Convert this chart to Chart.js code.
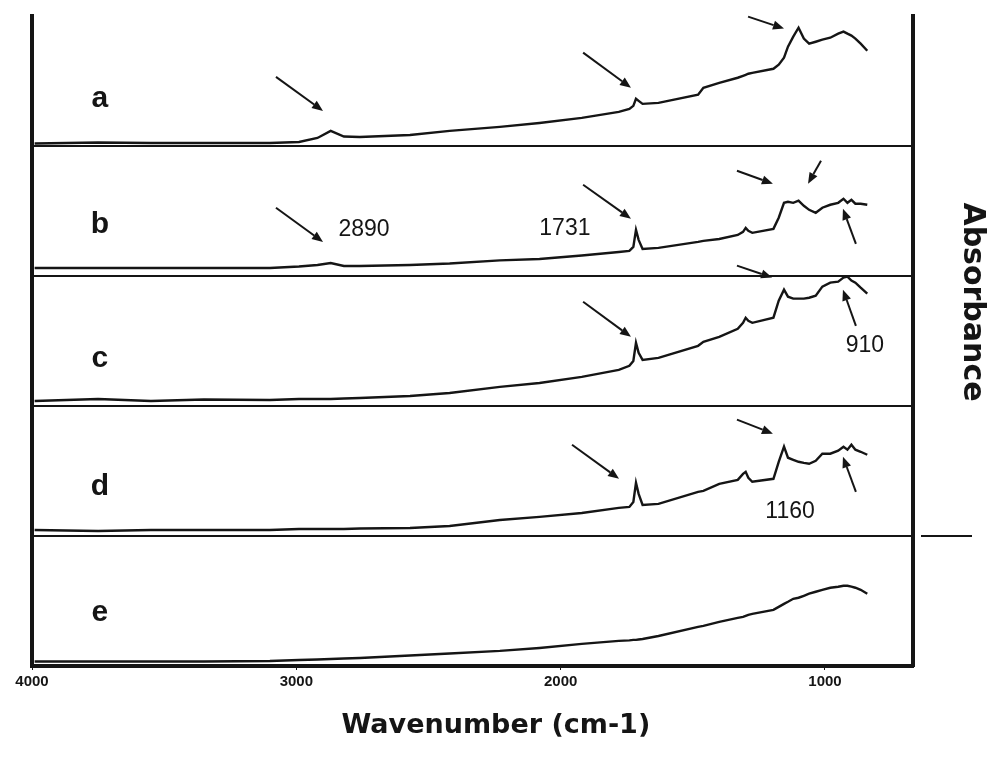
<!DOCTYPE html>
<html>
<head>
<meta charset="utf-8">
<script src="https://cdn.jsdelivr.net/npm/chart.js@4.4.1/dist/chart.umd.min.js"></script>
<style>
  html, body { margin: 0; padding: 0; background: #fff; }
  #wrap { width: 989px; height: 761px; }
</style>
</head>
<body>
<div id="wrap"><canvas id="ftirChart"></canvas></div>
<script>
// wavenumbers (cm-1), shared by the five spectra
const wavenumbers = [3990, 3750, 3550, 3350, 3100, 2990, 2920, 2870, 2820, 2760,
  2570, 2420, 2230, 2080, 1920, 1780, 1740, 1725, 1715, 1705,
  1690, 1630, 1480, 1460, 1400, 1330, 1310, 1300, 1290, 1275,
  1195, 1175, 1155, 1140, 1120, 1100, 1080, 1060, 1035, 1010,
  980, 950, 930, 915, 900, 885, 865, 840];

// absorbance, in % of each panel's height
const spectrumA = [1.9, 2.7, 2.3, 2.3, 2.3, 3.1, 6.2, 11.6, 7.3, 6.9,
  8.5, 11.6, 14.7, 17.7, 21.6, 26.2, 28.5, 30.9, 36.3, 34.7,
  32.4, 33.2, 39.4, 44.8, 48.6, 52.5, 54.0, 54.8, 55.6, 56.3,
  59.4, 62.5, 67.9, 76.4, 84.1, 91.0, 82.6, 78.7, 80.2, 81.8,
  83.3, 86.4, 88.0, 86.4, 84.9, 82.6, 78.7, 73.3];
const spectrumB = [6.2, 6.2, 6.2, 6.2, 6.2, 7.3, 8.5, 10.0, 7.7, 7.7,
  8.5, 9.6, 12.0, 13.1, 15.8, 18.5, 19.3, 22.4, 35.5, 27.8,
  20.8, 21.6, 26.2, 27.0, 28.5, 31.6, 34.0, 37.0, 34.7, 33.2,
  36.3, 44.8, 56.3, 57.1, 56.3, 57.9, 54.0, 50.9, 48.6, 52.5,
  54.8, 56.3, 59.4, 56.3, 58.6, 55.6, 55.6, 54.8];
const spectrumC = [3.9, 5.4, 3.9, 5.0, 4.6, 5.4, 5.4, 5.4, 5.8, 6.2,
  7.7, 10.0, 14.7, 17.7, 22.4, 27.8, 30.9, 34.7, 48.6, 40.9,
  35.5, 37.0, 46.3, 49.4, 53.2, 59.4, 64.0, 67.9, 65.6, 64.0,
  67.9, 81.0, 89.5, 84.1, 82.6, 82.6, 82.6, 83.3, 84.9, 91.8,
  94.9, 95.7, 98.8, 99.5, 96.5, 94.9, 91.0, 86.4];
const spectrumD = [4.6, 3.9, 4.6, 4.6, 4.6, 5.4, 5.4, 5.4, 5.4, 5.8,
  6.2, 7.7, 12.3, 14.7, 17.7, 21.6, 22.4, 26.2, 40.9, 32.4,
  23.9, 24.7, 34.0, 34.7, 40.1, 43.2, 47.8, 49.4, 44.8, 41.7,
  44.0, 57.1, 68.7, 60.2, 58.6, 57.1, 56.3, 55.6, 57.9, 63.3,
  63.3, 65.6, 68.7, 66.4, 70.2, 66.4, 64.8, 62.5];
const spectrumE = [3.5, 3.5, 3.5, 3.5, 3.9, 4.6, 5.0, 5.4, 5.8, 6.2,
  8.1, 9.6, 11.6, 13.9, 17.0, 19.3, 19.7, 20.1, 20.1, 20.4,
  20.8, 23.1, 30.1, 30.9, 34.0, 37.0, 37.8, 38.6, 39.4, 40.1,
  43.2, 45.5, 47.8, 49.4, 51.7, 52.5, 54.0, 55.6, 57.1, 58.6,
  60.2, 61.0, 61.7, 61.7, 61.0, 60.2, 58.6, 55.6];

const panelLabels = ['a', 'b', 'c', 'd', 'e'];
const xTicks = [4000, 3000, 2000, 1000];

// annotations in data units: [panel, wavenumber, value]
const letterWave = 3743;
const letterY = [36, 39.4, 36, 37.8, 41];
const bandLabels = [
  ['b', 2744, 35.5, '2890'],
  ['b', 1984, 36.3, '1731'],
  ['c', 849, 46.3, '910'],
  ['d', 1132, 18.5, '1160']
];
// [panel, from wave, from value, to wave, to value]
const arrows = [
  ['a', 3077, 53.2, 2899, 27.0],
  ['a', 1915, 71.8, 1734, 44.8],
  ['a', 1291, 99.5, 1155, 90.3],
  ['b', 3077, 52.5, 2899, 26.2],
  ['b', 1915, 70.2, 1734, 44.0],
  ['b', 1333, 81.0, 1197, 70.9],
  ['b', 1015, 88.7, 1064, 71.0],
  ['b', 883, 24.7, 932, 51.7],
  ['c', 1333, 108.0, 1200, 98.8],
  ['c', 1915, 80.2, 1734, 53.2],
  ['c', 883, 61.7, 932, 89.5],
  ['d', 1957, 70.2, 1779, 44.0],
  ['d', 1333, 89.5, 1197, 78.7],
  ['d', 883, 34.0, 932, 61.0]
];
const xTitle = 'Wavenumber (cm-1)';
const xTitleWave = 2245;
const yTitle = 'Absorbance';

const ink = '#151515';
const series = [spectrumA, spectrumB, spectrumC, spectrumD, spectrumE];
const axisOf = p => 'y' + p;

const datasets = series.map((vals, i) => ({
  label: panelLabels[i],
  data: wavenumbers.map((w, k) => ({ x: w, y: vals[k] })),
  yAxisID: axisOf(panelLabels[i]),
  borderColor: ink,
  borderWidth: 2.4,
  pointRadius: 0,
  tension: 0,
  fill: false
}));

const scales = {
  x: {
    type: 'linear', reverse: true, min: 667, max: 4000,
    afterBuildTicks: s => { s.ticks = xTicks.map(v => ({ value: v })); },
    ticks: {
      callback: v => String(v), color: ink, padding: 3, maxRotation: 0, autoSkip: false,
      font: { family: 'Liberation Sans', size: 15, weight: 'bold' }
    },
    grid: { drawOnChartArea: false, tickLength: 4, color: ink, lineWidth: 1 },
    border: { display: true, color: ink, width: 4 }
  }
};
// one stacked y axis per spectrum
panelLabels.slice().reverse().forEach(p => {
  scales[axisOf(p)] = {
    type: 'linear', position: 'left', stack: 'spectra', stackWeight: 1, min: 0, max: 100,
    afterBuildTicks: s => { s.ticks = [{ value: 0 }]; },
    ticks: { display: false },
    grid: { drawTicks: false, color: ink, lineWidth: 2 },
    border: { display: true, color: ink, width: 4 }
  };
});
scales.frame = {
  type: 'linear', position: 'right', min: 0, max: 1,
  ticks: { display: false }, grid: { display: false },
  border: { display: true, color: ink, width: 4 }
};

function drawArrow(ctx, x0, y0, x1, y1) {
  const ang = Math.atan2(y1 - y0, x1 - x0);
  const head = 11, half = 4.5;
  const bx = x1 - head * Math.cos(ang), by = y1 - head * Math.sin(ang);
  ctx.lineWidth = 2;
  ctx.beginPath();
  ctx.moveTo(x0, y0);
  ctx.lineTo(bx, by);
  ctx.stroke();
  ctx.beginPath();
  ctx.moveTo(x1, y1);
  ctx.lineTo(bx - half * Math.sin(ang), by + half * Math.cos(ang));
  ctx.lineTo(bx + half * Math.sin(ang), by - half * Math.cos(ang));
  ctx.closePath();
  ctx.fill();
}

const annotate = {
  id: 'annotate',
  afterDatasetsDraw(chart) {
    const ctx = chart.ctx, x = chart.scales.x, area = chart.chartArea;
    ctx.save();
    ctx.fillStyle = ink;
    ctx.strokeStyle = ink;
    ctx.textAlign = 'center';
    ctx.textBaseline = 'middle';

    ctx.font = 'bold 30px "Liberation Sans"';
    panelLabels.forEach((p, i) => {
      ctx.fillText(p, x.getPixelForValue(letterWave), chart.scales[axisOf(p)].getPixelForValue(letterY[i]));
    });

    ctx.font = '23px "Liberation Sans"';
    bandLabels.forEach(([p, w, v, t]) => {
      ctx.fillText(t, x.getPixelForValue(w), chart.scales[axisOf(p)].getPixelForValue(v));
    });

    arrows.forEach(([p, w0, v0, w1, v1]) => {
      const y = chart.scales[axisOf(p)];
      drawArrow(ctx, x.getPixelForValue(w0), y.getPixelForValue(v0), x.getPixelForValue(w1), y.getPixelForValue(v1));
    });

    // short stray rule beside the frame
    const yd = chart.scales.yd.bottom;
    ctx.lineWidth = 2;
    ctx.beginPath();
    ctx.moveTo(area.right + 8, yd);
    ctx.lineTo(area.right + 59, yd);
    ctx.stroke();

    // x title, sitting a little right of centre as in the source figure
    ctx.font = 'bold 27px "DejaVu Sans"';
    ctx.fillText(xTitle, x.getPixelForValue(xTitleWave), area.bottom + 60);

    // y title, reading top to bottom
    ctx.translate(area.right + 59, area.top + area.height * 0.44);
    ctx.rotate(Math.PI / 2);
    ctx.font = 'bold 30px "DejaVu Sans"';
    ctx.fillText(yTitle, 0, 0);
    ctx.restore();
  }
};

new Chart(document.getElementById('ftirChart'), {
  type: 'line',
  data: { datasets },
  options: {
    responsive: true,
    maintainAspectRatio: false,
    animation: false,
    layout: { padding: { left: 32, right: 68, top: 16, bottom: 67 } },
    plugins: { legend: { display: false }, tooltip: { enabled: false } },
    scales
  },
  plugins: [annotate]
});
</script>
</body>
</html>
